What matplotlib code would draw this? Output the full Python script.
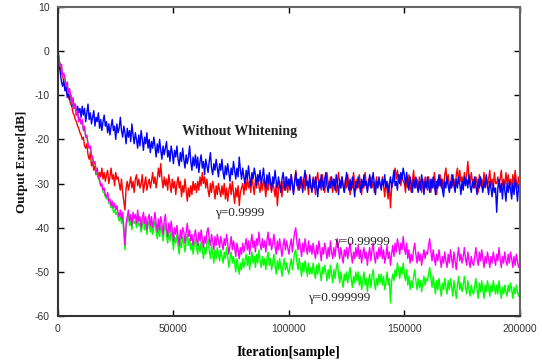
import matplotlib
matplotlib.use("Agg")
import matplotlib.pyplot as plt
import numpy as np

# readings every 500 samples, one row = 10000 samples
err_no_white = [
    0, -3, -5, -7, -8, -6.5, -9, -8, -10.5, -9, -11, -10, -12.5, -11, -13, -12, -14.5, -12.5, -14, -13,
    -15, -12.5, -14.5, -13, -16, -14, -12, -15.5, -14, -16.5, -15, -13.5, -17, -15, -16, -14, -17.5, -15.5, -18, -16,
    -14.5, -17, -16, -18.5, -16.5, -19, -17, -15.5, -18, -17, -20, -16.5, -18.5, -17.5, -15, -18, -19.5, -17, -18.5, -21,
    -17.5, -19.5, -18, -20.5, -16.5, -19, -21, -18.5, -20, -22, -19, -21.5, -18, -20, -22.5, -19.5, -21, -18.5, -22, -20,
    -23, -20.5, -22, -19.5, -21.5, -24, -21, -23, -20, -22.5, -24.5, -21.5, -23.5, -22, -20.5, -24, -22.5, -25, -21.5, -23,
    -25.5, -22.5, -24, -21.5, -24.5, -26, -23, -25, -22, -24.5, -26.5, -23.5, -25.5, -24, -21.5, -25, -27, -24, -26, -23.5,
    -26.5, -24, -27.5, -25, -23.5, -26.5, -25, -28, -24.5, -26, -27.5, -25, -23, -26.5, -28, -25.5, -27, -24.5, -26.5, -28.5,
    -25.5, -27, -24.5, -27.5, -29, -26, -28, -25.5, -27.5, -29.5, -26.5, -28, -25, -27, -29, -26.5, -28.5, -24, -27, -29,
    -26.5, -28.5, -30, -27, -29, -26, -28.5, -30.5, -27.5, -29, -26.5, -28, -30.5, -28, -29.5, -27, -30, -28.5, -26.5, -29.5,
    -31, -28, -30, -27.5, -29.5, -31.5, -28.5, -30, -27, -29.5, -31, -28.5, -30.5, -32, -29, -27.5, -30, -31.5, -28.5, -30.5,
    -29, -31.5, -28, -30, -32.5, -29.5, -27.5, -30.5, -29, -31.5, -28.5, -30, -32, -29, -27, -30.5, -29.5, -31, -28, -30.5,
    -32, -29, -31, -28.5, -30.5, -33, -29.5, -31, -28, -30, -31.5, -29, -27.5, -30.5, -32, -29.5, -31, -28.5, -30.5, -29,
    -31.5, -28, -30, -32.5, -29, -31, -28.5, -30.5, -32, -29.5, -27.5, -30, -31.5, -29, -31.5, -28.5, -30.5, -33, -29.5, -31,
    -28.5, -30, -32, -29, -31, -28, -30.5, -29.5, -32, -30, -28, -31, -29.5, -27.5, -30, -32.5, -29.5, -31, -28.5, -30,
    -31.5, -29, -30.5, -28, -31, -29.5, -32, -30, -28.5, -31, -29, -27, -30.5, -29.5, -31.5, -28, -30, -27.5, -29, -26.5,
    -28, -30.5, -27.5, -29.5, -31.5, -28.5, -30, -32, -29, -31, -28.5, -30.5, -32, -29.5, -31.5, -28, -30, -32.5, -29.5, -31,
    -28.5, -30.5, -32, -29, -31, -28.5, -30, -32.5, -29.5, -31, -28, -30.5, -29, -31.5, -33, -29.5, -31, -28.5, -30.5, -32,
    -29.5, -31, -28, -30.5, -32, -29, -31, -28.5, -30, -32.5, -29.5, -31.5, -28.5, -30.5, -29, -31, -28, -30.5, -32, -29.5,
    -31, -28.5, -30.5, -32.5, -29, -31, -28.5, -30.5, -32, -29.5, -31, -28, -30.5, -32.5, -29.5, -31, -33, -30, -32, -31,
    -36.5, -31, -29, -32, -30, -33.5, -29.5, -31.5, -34, -30, -32, -29.5, -31.5, -33.5, -30, -32.5, -29, -31, -34, -30.5,
    -32,
]

err_g4 = [
    0, -2, -3.5, -5, -5.5, -7, -7.5, -9, -9.5, -10.5, -11, -12, -12.5, -14, -14.5, -15.5, -16, -17, -17.5, -18.5,
    -19, -20, -19.5, -21.5, -22, -21, -23.5, -24.5, -23, -26, -25, -27, -26, -28, -26.5, -29, -27.5, -28.5, -26.5, -29,
    -27.5, -29.5, -28, -27, -30, -28.5, -26.5, -29, -28, -30.5, -27.5, -29, -28.5, -30, -31.5, -29, -32, -34, -36, -31,
    -29.5, -31.5, -30, -28.5, -31, -29.5, -32, -29, -28, -30.5, -29, -31, -30, -28, -32, -30, -28.5, -31.5, -30, -29,
    -31, -29.5, -27.5, -30, -28.5, -31, -29, -26.5, -28.5, -25.5, -29, -31, -28.5, -30.5, -29, -31.5, -28, -30, -32, -29,
    -31, -29.5, -32.5, -30, -28.5, -31, -29.5, -33, -30.5, -32, -29, -31.5, -34, -31, -33, -30.5, -32.5, -29.5, -31.5, -30,
    -32, -29.5, -31.5, -28.5, -30.5, -27.5, -30, -28.5, -31, -29, -31.5, -33, -30, -32, -29.5, -31, -33.5, -30.5, -32.5, -30,
    -31.5, -33, -30.5, -32.5, -30, -33.5, -31, -34, -31.5, -30, -32.5, -29.5, -32, -34.5, -31, -33, -30.5, -35, -32, -31,
    -30, -32.5, -29.5, -31.5, -28.5, -31, -29.5, -32, -28.5, -30.5, -32.5, -29, -31, -28, -30.5, -32, -29.5, -31.5, -29, -30.5,
    -33, -30, -31.5, -28.5, -30.5, -32, -29.5, -31, -33, -30, -35, -31.5, -29.5, -31, -33, -29.5, -31.5, -28.5, -30.5, -32,
    -29, -31, -28, -30.5, -32, -29.5, -27, -30, -31.5, -29, -31, -28.5, -30.5, -29, -31.5, -28, -30, -32.5, -29, -31,
    -31, -28.5, -30, -32.5, -29, -27.5, -30.5, -29, -31.5, -28, -30, -32, -29.5, -27.5, -30, -31, -28.5, -30.5, -32, -29,
    -30, -32, -29.5, -27.5, -30, -31, -28.5, -30.5, -32, -29, -31, -28, -30.5, -32.5, -29.5, -31, -27.5, -30, -31.5, -29,
    -31, -28, -30, -32.5, -29.5, -31, -27.5, -30, -31.5, -29, -30.5, -28.5, -31, -29.5, -32, -30, -28.5, -31, -29, -30.5,
    -31, -28.5, -30.5, -33, -29.5, -31.5, -33.5, -30, -35.5, -31, -30, -28.5, -26.5, -29, -27, -29.5, -28, -30.5, -28, -29.5,
    -30, -32, -29, -31, -28, -30.5, -32, -29.5, -27, -30, -31, -29, -31.5, -28.5, -30, -32, -29, -31, -28.5, -30,
    -31.5, -28.5, -30, -32, -29, -31, -27.5, -30, -32.5, -29, -30.5, -28, -31, -29, -31.5, -28, -26.5, -30, -28, -30.5,
    -31, -28, -30.5, -29, -31.5, -28, -26.5, -30, -27, -29.5, -28.5, -30.5, -27.5, -30, -28, -25, -28.5, -30, -27.5, -29.5,
    -29, -31, -28.5, -30, -32, -28, -30.5, -29, -31, -27.5, -30, -28.5, -31, -29, -27, -30.5, -29, -31, -27.5, -30,
    -30, -28.5, -31, -29, -27, -30.5, -29, -31, -27.5, -30, -28, -30.5, -29, -31.5, -28, -30, -27, -29.5, -31, -28.5,
    -30,
]

err_g5 = [
    0, -2, -3.5, -3, -5.5, -5, -6, -8, -7, -9.5, -8.5, -10, -12, -10.5, -13, -12, -14.5, -13.5, -16, -15,
    -16.5, -15.5, -18, -17, -19.5, -19, -21, -22, -21.5, -23.5, -24, -25.5, -25, -27, -27.5, -28.5, -29, -30.5, -30, -31.5,
    -31, -32.5, -33, -32, -34, -33.5, -35, -34, -35.5, -34.5, -36, -35, -36.5, -37.5, -36, -38, -36.5, -40, -44, -39,
    -37.5, -36, -38.5, -37, -39.5, -36.5, -38, -37, -39, -36, -38.5, -37.5, -40, -38, -36.5, -39, -37.5, -40.5, -38, -37,
    -39.5, -37.5, -40, -38.5, -36.5, -39, -41, -38, -40.5, -37.5, -39, -41.5, -38.5, -37, -40, -42, -39, -41, -38.5, -40.5,
    -43, -40, -41.5, -39.5, -42, -44, -40.5, -42.5, -40, -41, -43.5, -41, -39, -42, -40.5, -43, -41.5, -44, -42, -40.5,
    -42.5, -44, -41, -43, -40.5, -42.5, -44.5, -42, -43.5, -41, -40, -42.5, -44, -41.5, -43, -45, -42, -44, -41.5, -43,
    -44.5, -42, -43.5, -45, -42.5, -44, -41.5, -43.5, -46, -44, -42, -45, -43, -44.5, -46.5, -43.5, -45, -47, -44.5, -46,
    -43.5, -45.5, -44, -42.5, -45, -43, -46, -43.5, -41.5, -44.5, -43, -45.5, -42.5, -44, -41, -43.5, -45, -42.5, -44.5, -43,
    -45.5, -43, -41, -44, -42.5, -45, -43.5, -41.5, -44, -46, -43, -45, -42.5, -44.5, -46.5, -44, -42.5, -45, -43, -44.5,
    -46, -44, -42.5, -45.5, -43, -41, -40, -43.5, -45, -42.5, -44.5, -46.5, -43.5, -45.5, -42.5, -44.5, -46, -43, -45.5, -44,
    -46, -43.5, -45.5, -47, -44, -46, -43, -45, -47.5, -44.5, -46, -43.5, -45, -47, -44.5, -46.5, -43, -45.5, -47, -44.5,
    -46.5, -44, -42.5, -45, -47, -44.5, -46.5, -48, -45, -46.5, -44.5, -47, -45, -43.5, -46, -48, -45.5, -47, -44.5, -46.5,
    -44, -47, -45, -48, -46, -44.5, -47, -45.5, -48.5, -46, -44.5, -47.5, -45, -43.5, -46.5, -48, -45.5, -47, -44.5, -46.5,
    -44, -47, -45, -48, -46.5, -44, -47, -45.5, -48.5, -46, -44, -46.5, -43.5, -45.5, -42.5, -44, -46, -43.5, -45, -42,
    -44.5, -46, -43.5, -47, -45, -48, -46, -47.5, -45, -43.5, -46, -48, -45.5, -47.5, -46, -48.5, -46.5, -45, -47, -45.5,
    -46, -44, -42.5, -45.5, -47.5, -45, -47, -48.5, -46, -47.5, -45, -47, -49, -46.5, -48, -45.5, -47.5, -49, -46, -48,
    -45, -47, -49, -45.5, -47.5, -49.5, -46.5, -44.5, -47.5, -46, -48, -46.5, -44.5, -47, -48.5, -45.5, -47.5, -49, -46.5, -48,
    -48.5, -46.5, -44.5, -47, -48.5, -45.5, -47.5, -45, -47, -49, -46.5, -48, -45.5, -47, -49, -46.5, -48, -45.5, -47, -48.5,
    -46, -47.5, -44.5, -47, -49, -46.5, -48, -45.5, -47.5, -48.5, -46, -48, -45.5, -47, -49, -46.5, -48.5, -46, -47.5, -49,
    -48,
]

err_g6 = [
    0, -2, -3.5, -3.5, -5.5, -5.5, -6.5, -8, -7.5, -9.5, -9, -10, -12, -11, -13, -12.5, -14.5, -14, -16, -15.5,
    -16.5, -16, -18, -17.5, -19.5, -19.5, -21, -22, -22, -23.5, -24.5, -25.5, -25.5, -27, -28, -28.5, -29.5, -30.5, -30.5, -32,
    -32, -33, -33.5, -33, -34.5, -34.5, -35.5, -35, -36.5, -36, -37, -36.5, -37.5, -38.5, -37.5, -39, -38, -41, -45, -40,
    -38.5, -37.5, -39.5, -38.5, -40.5, -38, -39, -38.5, -40, -37.5, -39.5, -39, -41, -39.5, -38, -40.5, -39, -41.5, -39.5, -38.5,
    -41, -39, -41.5, -40, -38.5, -41, -42.5, -40, -42, -39.5, -41, -43, -40.5, -39, -42, -43.5, -41, -43, -40.5, -42.5,
    -45, -42, -43.5, -41.5, -44, -46, -42.5, -44.5, -42, -43.5, -45.5, -43, -41.5, -44, -42.5, -45, -43.5, -46, -44, -42.5,
    -44.5, -46, -43.5, -45.5, -43, -45, -47, -44.5, -46, -43.5, -42.5, -45, -47, -44, -46, -48, -45, -47, -44.5, -46,
    -47.5, -45, -46.5, -48, -45.5, -47, -44.5, -46.5, -49, -47, -45.5, -48, -46.5, -48, -50, -47, -48.5, -50.5, -48, -49.5,
    -47, -49, -47.5, -46, -48.5, -46.5, -49.5, -47, -45.5, -48, -46.5, -49, -46, -48, -45, -47.5, -49, -46.5, -48.5, -47,
    -49.5, -47, -45.5, -48.5, -47, -49.5, -48, -46, -48.5, -50.5, -47.5, -49.5, -47, -49, -51, -48.5, -47, -49.5, -48, -49.5,
    -50.5, -48.5, -47, -49.5, -47.5, -45.5, -45, -48, -49.5, -47, -49, -51, -48, -50, -47.5, -49, -51, -48, -50.5, -49,
    -50.5, -48, -50, -51.5, -48.5, -50.5, -48, -50, -52, -49, -50.5, -48.5, -50, -52, -49.5, -51.5, -48.5, -50.5, -52.5, -49.5,
    -51.5, -49, -48, -50.5, -52.5, -50, -52, -53.5, -50.5, -52, -50, -52.5, -50.5, -49, -51.5, -53.5, -51, -52.5, -50, -52,
    -50, -53, -51, -54, -52, -50, -53, -51.5, -54.5, -52, -50.5, -53.5, -51, -49.5, -52.5, -54, -51.5, -53, -50.5, -52.5,
    -50.5, -53, -51, -54, -52.5, -50, -53, -51.5, -57, -52, -50.5, -52, -49.5, -51, -48, -49.5, -51.5, -49, -50.5, -48,
    -50.5, -52, -49.5, -53, -51, -54, -52, -53.5, -51, -49.5, -52, -54, -51.5, -53.5, -52, -54.5, -52.5, -51, -53, -51.5,
    -52, -50.5, -49, -51.5, -53.5, -51, -53, -55, -52, -54, -51.5, -53.5, -55.5, -52.5, -54, -51.5, -53.5, -55, -52, -54,
    -51.5, -53.5, -55.5, -52, -54, -56, -53, -51, -54, -52.5, -54.5, -53, -51, -53.5, -55, -52, -54, -55.5, -53, -54.5,
    -55, -53, -51.5, -54, -56, -52.5, -54.5, -52, -54, -56, -53, -54.5, -52, -53.5, -55.5, -53, -54.5, -52, -53.5, -55,
    -53, -55, -52, -54, -56, -53.5, -55, -53, -54.5, -55.5, -53, -54.5, -52.5, -54, -56, -53.5, -55, -53, -54.5, -55.5,
    -54.5,
]

iters = np.arange(0, 200001, 500)

xticks = [0, 50000, 100000, 150000, 200000]
yticks = [-60, -50, -40, -30, -20, -10, 0, 10]

serif = ['Liberation Serif', 'DejaVu Serif']
plt.rcParams['font.family'] = ['Liberation Sans', 'DejaVu Sans']
plt.rcParams['axes.unicode_minus'] = False

fig = plt.figure(figsize=(5.42, 3.6), dpi=100)
ax = fig.add_axes([0.107, 0.122, 0.852, 0.859])

ax.plot(iters, err_g4, color='#ff0000', lw=1.0)
ax.plot(iters, err_no_white, color='#0000ff', lw=1.0)
ax.plot(iters, err_g6, color='#00ff00', lw=1.0)
ax.plot(iters, err_g5, color='#ff00ff', lw=1.0)

ax.set_xlim(0, 200000)
ax.set_ylim(-60, 10)
ax.set_xticks(xticks)
ax.set_yticks(yticks)
ax.tick_params(direction='in', top=True, right=True, length=4, width=1,
               labelsize=7.5, labelcolor='#333333', pad=6)

for side in ['left', 'bottom']:
    ax.spines[side].set_color('#333333')
    ax.spines[side].set_linewidth(1.5)
for side in ['top', 'right']:
    ax.spines[side].set_color('#666666')
    ax.spines[side].set_linewidth(1.5)

ax.set_xlabel('Iteration[sample]', family=serif, fontweight='bold', fontsize=10, labelpad=8)
ax.set_ylabel('Output Error[dB]', family=serif, fontweight='bold', fontsize=9.5, labelpad=5, color='#111111')

ax.text(53500, -18.2, 'Without Whitening', family=serif, fontweight='bold', fontsize=10,
        va='center', ha='left', color='#222222')
ax.text(68000, -36.6, 'γ=0.9999', family=serif, fontsize=9.5, va='center', ha='left', color='#222222')
ax.text(119500, -43.2, 'γ=0.99999', family=serif, fontsize=9.5, va='center', ha='left', color='#222222')
ax.text(108500, -55.9, 'γ=0.999999', family=serif, fontsize=9.5, va='center', ha='left', color='#222222')

fig.savefig('out.png', dpi=100)
